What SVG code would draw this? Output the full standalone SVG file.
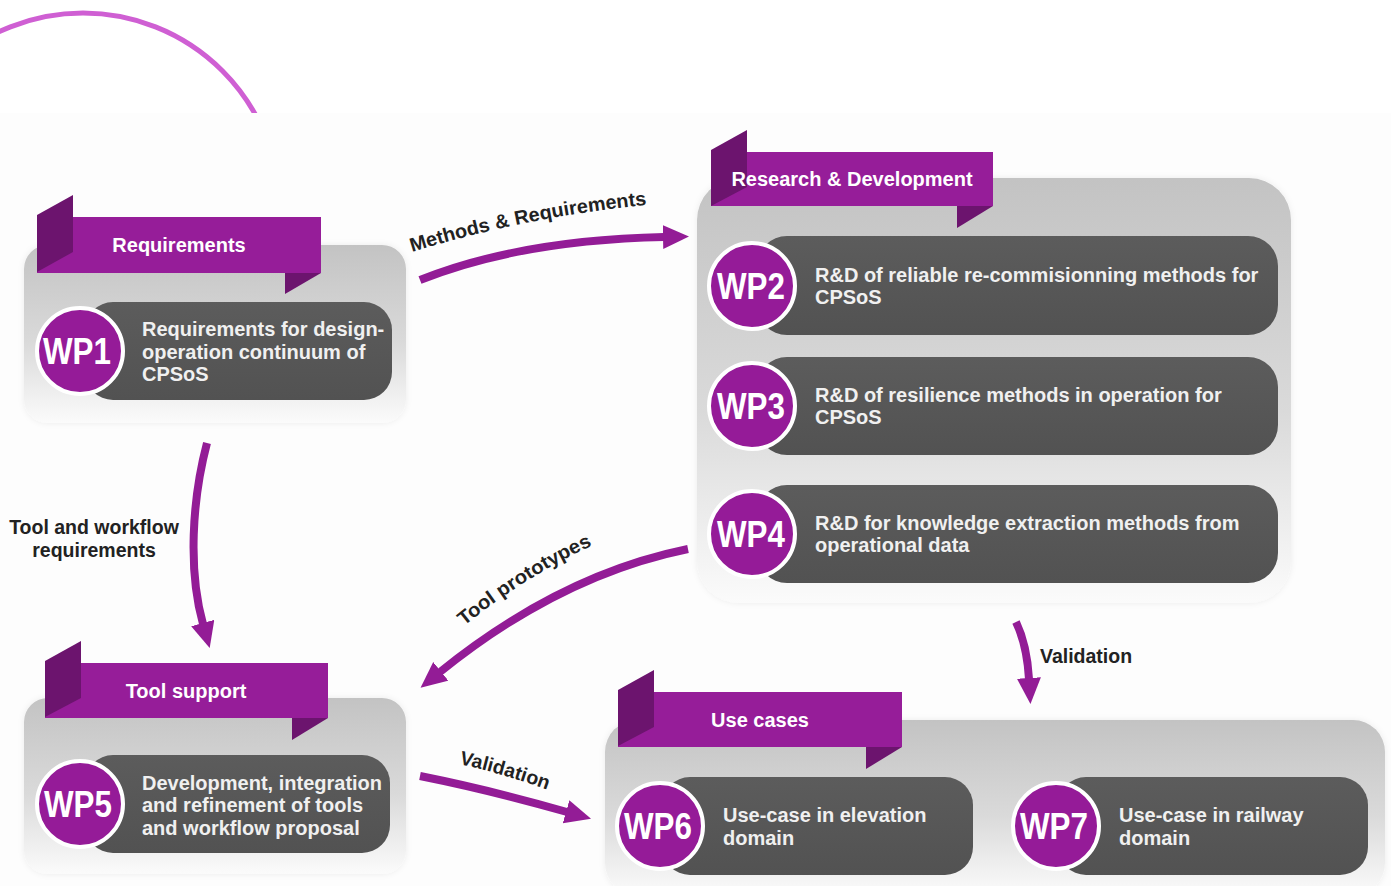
<svg xmlns="http://www.w3.org/2000/svg" width="1391" height="886" viewBox="0 0 1391 886">
<defs>
<style>
.box{fill:url(#boxg)}
.rib{fill:#961d99}
.fold{fill:#6c146e}
.pill{fill:url(#pillg)}
.wpc{fill:#951b98;stroke:#ffffff;stroke-width:4}
.wp{font-family:"Liberation Sans",Arial,sans-serif;font-weight:bold;font-size:37px;fill:#ffffff;text-anchor:middle}
.rt{font-family:"Liberation Sans",Arial,sans-serif;font-weight:bold;font-size:20px;fill:#ffffff;text-anchor:middle}
.bt{font-family:"Liberation Sans",Arial,sans-serif;font-weight:bold;font-size:20px;fill:#f0f0f0}
.lbl{font-family:"Liberation Sans",Arial,sans-serif;font-weight:bold;font-size:19.5px;fill:#222222}
.arr{fill:none;stroke:#931c96;stroke-width:8;marker-end:url(#ah)}
</style>
<linearGradient id="boxg" x1="0" y1="0" x2="0" y2="1">
<stop offset="0" stop-color="#c3c3c3"/>
<stop offset="0.55" stop-color="#dadada"/>
<stop offset="1" stop-color="#fbfbfb"/>
</linearGradient>
<linearGradient id="pillg" x1="0" y1="0" x2="0" y2="1">
<stop offset="0" stop-color="#5c5c5c"/>
<stop offset="1" stop-color="#525252"/>
</linearGradient>
<filter id="sh" x="-10%" y="-10%" width="120%" height="120%">
<feDropShadow dx="0" dy="0" stdDeviation="3" flood-color="#000000" flood-opacity="0.07"/>
</filter>
<marker id="ah" markerUnits="userSpaceOnUse" markerWidth="30" markerHeight="26" refX="1" refY="12" orient="auto">
<path d="M0,0 L26,12 L0,24 z" fill="#931c96"/>
</marker>
<clipPath id="topclip"><rect x="0" y="0" width="400" height="113"/></clipPath>
</defs>

<rect x="0" y="0" width="1391" height="886" fill="#ffffff"/>
<rect x="0" y="113" width="1391" height="773" fill="#fdfdfd"/>
<g clip-path="url(#topclip)">
<circle cx="83" cy="210" r="197" fill="none" stroke="#cf5fd3" stroke-width="5"/>
</g>

<g id="group-requirements">
<rect class="box" x="24" y="245" width="382" height="178" rx="24" filter="url(#sh)"/>
<rect class="rib" x="37" y="217" width="284" height="56"/>
<polygon class="fold" points="37,215 73,195 73,252 37,272"/>
<polygon class="fold" points="285,273 321,273 285,294"/>
<text class="rt" x="179" y="252">Requirements</text>
</g>
<g id="wp1">
<rect class="pill" x="85" y="302" width="307" height="98" rx="28"/>
<circle class="wpc" cx="80" cy="351" r="43"/>
<text class="wp" x="77" y="364" textLength="68" lengthAdjust="spacingAndGlyphs">WP1</text>
<text class="bt" x="142" y="336">Requirements for design-</text>
<text class="bt" x="142" y="359">operation continuum of</text>
<text class="bt" x="142" y="381">CPSoS</text>
</g>

<g id="group-rd">
<rect class="box" x="697" y="178" width="594" height="425" rx="42" filter="url(#sh)"/>
<rect class="rib" x="711" y="152" width="282" height="54"/>
<polygon class="fold" points="711,150 747,130 747,187 711,206"/>
<polygon class="fold" points="957,206 993,206 957,228"/>
<text class="rt" x="852" y="186">Research &amp; Development</text>
</g>
<g id="wp2">
<rect class="pill" x="757" y="236" width="521" height="99" rx="30"/>
<circle class="wpc" cx="752" cy="286" r="43"/>
<text class="wp" x="751" y="299" textLength="68" lengthAdjust="spacingAndGlyphs">WP2</text>
<text class="bt" x="815" y="282">R&amp;D of reliable re-commisionning methods for</text>
<text class="bt" x="815" y="304">CPSoS</text>
</g>
<g id="wp3">
<rect class="pill" x="757" y="357" width="521" height="98" rx="30"/>
<circle class="wpc" cx="752" cy="406" r="43"/>
<text class="wp" x="751" y="419" textLength="68" lengthAdjust="spacingAndGlyphs">WP3</text>
<text class="bt" x="815" y="402">R&amp;D of resilience methods in operation for</text>
<text class="bt" x="815" y="424">CPSoS</text>
</g>
<g id="wp4">
<rect class="pill" x="757" y="485" width="521" height="98" rx="30"/>
<circle class="wpc" cx="752" cy="534" r="43"/>
<text class="wp" x="751" y="547" textLength="68" lengthAdjust="spacingAndGlyphs">WP4</text>
<text class="bt" x="815" y="530">R&amp;D for knowledge extraction methods from</text>
<text class="bt" x="815" y="552">operational data</text>
</g>

<g id="group-tool">
<rect class="box" x="24" y="698" width="382" height="176" rx="24" filter="url(#sh)"/>
<rect class="rib" x="45" y="663" width="283" height="55"/>
<polygon class="fold" points="45,661 81,641 81,698 45,717"/>
<polygon class="fold" points="292,718 328,718 292,740"/>
<text class="rt" x="186" y="698">Tool support</text>
</g>
<g id="wp5">
<rect class="pill" x="85" y="755" width="305" height="98" rx="28"/>
<circle class="wpc" cx="80" cy="804" r="43"/>
<text class="wp" x="78" y="817" textLength="68" lengthAdjust="spacingAndGlyphs">WP5</text>
<text class="bt" x="142" y="790">Development, integration</text>
<text class="bt" x="142" y="812">and refinement of tools</text>
<text class="bt" x="142" y="835">and workflow proposal</text>
</g>

<g id="group-usecases">
<rect class="box" x="605" y="720" width="780" height="175" rx="32" filter="url(#sh)"/>
<rect class="rib" x="618" y="692" width="284" height="55"/>
<polygon class="fold" points="618,690 654,670 654,727 618,746"/>
<polygon class="fold" points="866,747 902,747 866,769"/>
<text class="rt" x="760" y="727">Use cases</text>
</g>
<g id="wp6">
<rect class="pill" x="662" y="777" width="311" height="98" rx="28"/>
<circle class="wpc" cx="660" cy="826" r="43"/>
<text class="wp" x="658" y="839" textLength="68" lengthAdjust="spacingAndGlyphs">WP6</text>
<text class="bt" x="723" y="822">Use-case in elevation</text>
<text class="bt" x="723" y="845">domain</text>
</g>
<g id="wp7">
<rect class="pill" x="1058" y="777" width="310" height="98" rx="28"/>
<circle class="wpc" cx="1056" cy="826" r="43"/>
<text class="wp" x="1054" y="839" textLength="68" lengthAdjust="spacingAndGlyphs">WP7</text>
<text class="bt" x="1119" y="822">Use-case in railway</text>
<text class="bt" x="1119" y="845">domain</text>
</g>

<g id="connectors">
<path class="arr" d="M 420 280 Q 520 240 664 237"/>
<path id="p-mr" d="M 412 252 Q 528 216 655 204" fill="none"/>
<text class="lbl"><textPath href="#p-mr" textLength="240" lengthAdjust="spacingAndGlyphs">Methods &amp; Requirements</textPath></text>

<path class="arr" d="M 207 443 C 192 500 188 570 203 624"/>
<text class="lbl" x="94" y="534" text-anchor="middle">Tool and workflow</text>
<text class="lbl" x="94" y="557" text-anchor="middle">requirements</text>

<path class="arr" d="M 688 549 Q 560 575 440 672"/>
<path id="p-tp" d="M 464 626 Q 528 574 602 541" fill="none"/>
<text class="lbl"><textPath href="#p-tp" textLength="152" lengthAdjust="spacingAndGlyphs">Tool prototypes</textPath></text>

<path class="arr" d="M 420 776 Q 490 790 567 812"/>
<path id="p-v1" d="M 459 764 Q 505 774 556 793" fill="none"/>
<text class="lbl"><textPath href="#p-v1">Validation</textPath></text>

<path class="arr" d="M 1016 622 Q 1027 645 1029 679"/>
<text class="lbl" x="1040" y="663">Validation</text>
</g>
</svg>
